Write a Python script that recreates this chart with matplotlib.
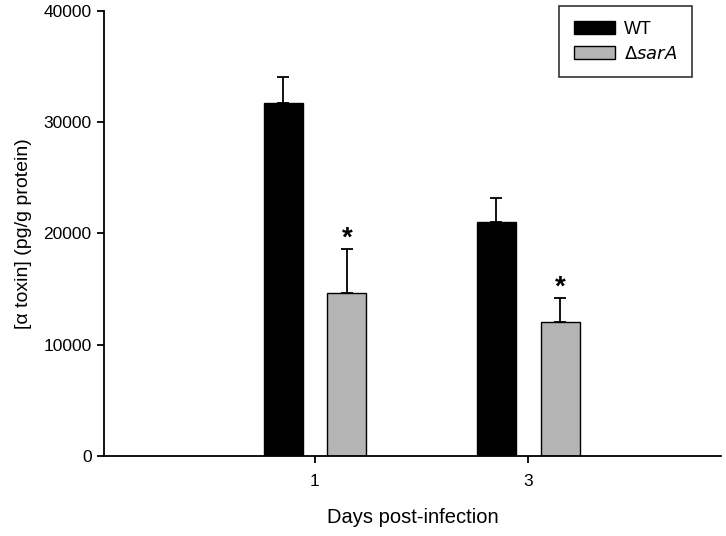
#!/usr/bin/env python3
"""Alpha toxin levels, WT vs sarA mutant, days post-infection."""

import numpy as np
import matplotlib
matplotlib.use("Agg")
import matplotlib.pyplot as plt

plt.rcParams["font.family"] = ["Liberation Sans", "DejaVu Sans"]

days = ["1", "3"]
wt_mean = [31700, 21000]
wt_err = [2350, 2200]
sara_mean = [14650, 12050]
sara_err = [3950, 2150]
significant = [True, True]

BLACK = "#000000"
GREY = "#b4b4b4"

fig = plt.figure(figsize=(7.26, 5.36), dpi=100)
ax = fig.add_axes([0.1433, 0.1493, 0.8497, 0.8302])

x = np.arange(len(days))
width = 0.183
off = 0.15

ax.bar(x - off, wt_mean, width, color=BLACK, edgecolor=BLACK, linewidth=1, label="WT", zorder=2)
ax.bar(x + off, sara_mean, width, color=GREY, edgecolor=BLACK, linewidth=1,
       label=r"$\Delta$$\it{sarA}$", zorder=2)

zeros = np.zeros(len(days))
ax.errorbar(x - off, wt_mean, yerr=[zeros, wt_err], fmt="none", ecolor=BLACK,
            elinewidth=1.3, capsize=4, capthick=1.3, zorder=1)
ax.errorbar(x + off, sara_mean, yerr=[zeros, sara_err], fmt="none", ecolor=BLACK,
            elinewidth=1.3, capsize=4, capthick=1.3, zorder=1)

# significance markers above the mutant bars
for xi, m, e, sig in zip(x + off, sara_mean, sara_err, significant):
    if sig:
        ax.text(xi, m + e - 200, "*", ha="center", va="bottom",
                fontsize=20, fontweight="bold")

ax.set_xlim(-0.99, 1.905)
ax.set_ylim(0, 40000)
ax.set_xticks(x)
ax.set_xticklabels(days)
ax.set_yticks(np.arange(0, 40001, 10000))

for side in ("top", "right"):
    ax.spines[side].set_visible(False)
for side in ("left", "bottom"):
    ax.spines[side].set_linewidth(1.3)
ax.tick_params(axis="both", direction="out", length=5, width=1.3, labelsize=12.5)
ax.tick_params(axis="y", pad=4)
ax.tick_params(axis="x", pad=8)

ax.set_ylabel("[\u03b1 toxin] (pg/g protein)", fontsize=14, labelpad=8)
ax.set_xlabel("Days post-infection", fontsize=14.5, labelpad=14)

leg = ax.legend(loc="upper right", bbox_to_anchor=(0.953, 1.011), fontsize=13,
                frameon=True, fancybox=False, edgecolor=BLACK, borderaxespad=0,
                handlelength=2.3, handleheight=0.78, borderpad=0.8,
                labelspacing=0.45, handletextpad=0.5)
leg.get_frame().set_linewidth(1.2)

fig.savefig("out.png", dpi=100)
